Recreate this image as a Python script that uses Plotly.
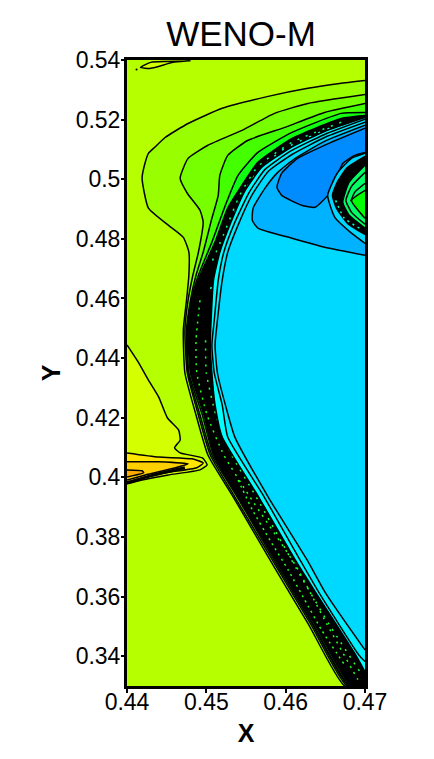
"""
WENO-M contour panel, density field near the shock. Contour outlines read off the picture.
"""
import plotly.graph_objects as go

X_TICKS = [0.44, 0.45, 0.46, 0.47]
X_LABELS = ["0.44", "0.45", "0.46", "0.47"]
Y_TICKS = [0.54, 0.52, 0.50, 0.48, 0.46, 0.44, 0.42, 0.40, 0.38, 0.36, 0.34]
Y_LABELS = ["0.54", "0.52", "0.5", "0.48", "0.46", "0.44", "0.42", "0.4", "0.38", "0.36", "0.34"]

# y levels shared by the lower part of the shock contours
lower_y = [0.4594, 0.4494, 0.4350, 0.4209, 0.4075, 0.3934, 0.3697, 0.3506, 0.3301]

c1_x = [0.47, 0.4668, 0.4628, 0.4578, 0.4520, 0.4477, 0.4448, 0.4436, 0.4427, 0.4422, 0.4419, 0.4427, 0.4452, 0.4471, 0.4478, 0.4478,
        0.4475, 0.4471, 0.4473, 0.4487, 0.4502, 0.4534, 0.4586, 0.4629, 0.4674]
c1_y = [0.5331, 0.5321, 0.5305, 0.5278, 0.5238, 0.5187, 0.5140, 0.5110, 0.5087, 0.5047, 0.5003, 0.4903, 0.4846, 0.4805, 0.4755, 0.4678] + lower_y

c2_x = [0.47, 0.4628, 0.4586, 0.4545, 0.4502, 0.4477, 0.4467, 0.4476, 0.4492, 0.4496, 0.4490, 0.4483,
        0.4477, 0.4473, 0.4476, 0.4490, 0.4505, 0.4536, 0.4589, 0.4632, 0.4677]
c2_y = [0.5284, 0.5254, 0.5221, 0.5164, 0.5114, 0.5070, 0.5003, 0.4953, 0.4896, 0.4856, 0.4755, 0.4678] + lower_y

c3_x = [0.47, 0.4649, 0.4599, 0.4552, 0.4527, 0.4517, 0.4515, 0.4507, 0.4496, 0.4487,
        0.4480, 0.4475, 0.4477, 0.4492, 0.4507, 0.4539, 0.4591, 0.4634, 0.4679]
c3_y = [0.5254, 0.5224, 0.5174, 0.5130, 0.5080, 0.5013, 0.4946, 0.4869, 0.4755, 0.4678] + lower_y

c4_x = [0.47, 0.4670, 0.4608, 0.4565, 0.4540, 0.4524, 0.4507, 0.4490,
        0.4481, 0.4476, 0.4478, 0.4495, 0.4509, 0.4540, 0.4593, 0.4635, 0.4680]
c4_y = [0.5224, 0.5221, 0.5157, 0.5090, 0.5013, 0.4913, 0.4789, 0.4678] + lower_y

band_x = [0.47, 0.4670, 0.4608, 0.4565, 0.4545, 0.4527, 0.4511, 0.4492,
          0.4482, 0.4477, 0.4480, 0.4497, 0.4510, 0.4541, 0.4594, 0.4637, 0.4682]
band_y = [0.5214, 0.5204, 0.5137, 0.5057, 0.4980, 0.4903, 0.4789, 0.4678] + lower_y

inner_k_x = [0.47, 0.4649, 0.4605, 0.4570, 0.4549, 0.4531, 0.4517, 0.4509, 0.4506, 0.4505, 0.4507, 0.4511, 0.4520, 0.4566, 0.4612, 0.4638, 0.4688, 0.47]
inner_k_y = [0.5207, 0.5160, 0.5104, 0.5040, 0.4963, 0.4856, 0.4755, 0.4661, 0.4527, 0.4444, 0.4350, 0.4243, 0.4135, 0.3934, 0.3723, 0.3613, 0.3405, 0.3348]
inner_l_x = [0.47, 0.4649, 0.4606, 0.4574, 0.4554, 0.4536, 0.4522, 0.4515, 0.4510, 0.4507, 0.4510, 0.4520, 0.4527, 0.4573, 0.4618, 0.4642, 0.4692, 0.47]
inner_l_y = [0.5201, 0.5150, 0.5094, 0.5033, 0.4956, 0.4856, 0.4755, 0.4661, 0.4527, 0.4444, 0.4350, 0.4243, 0.4135, 0.3934, 0.3723, 0.3613, 0.3405, 0.3382]
main_x = [0.47, 0.4649, 0.4608, 0.4578, 0.4558, 0.4540, 0.4527, 0.4520, 0.4514, 0.4511, 0.4514, 0.4524, 0.4536, 0.4578, 0.4627, 0.4650, 0.4697, 0.47]
main_y = [0.5191, 0.5140, 0.5083, 0.5026, 0.4949, 0.4846, 0.4755, 0.4661, 0.4527, 0.4444, 0.4350, 0.4243, 0.4135, 0.3934, 0.3723, 0.3613, 0.3432, 0.3421]

mid_x = [0.47, 0.4649, 0.4608, 0.4565, 0.4558, 0.4559, 0.4574, 0.4590, 0.4612, 0.4649, 0.47]
mid_y = [0.4745, 0.4772, 0.4802, 0.4836, 0.4862, 0.4903, 0.4970, 0.5023, 0.5070, 0.5127, 0.5181]
deep_x = [0.47, 0.4649, 0.4615, 0.4595, 0.4589, 0.4595, 0.4620, 0.4637, 0.4653, 0.4665, 0.4672, 0.4687, 0.47]
deep_y = [0.5171, 0.5114, 0.5070, 0.5020, 0.4973, 0.4946, 0.4913, 0.4906, 0.4946, 0.5013, 0.5053, 0.5080, 0.5090]

ring_x = [0.47, 0.4683, 0.4665, 0.4653, 0.4662, 0.4683, 0.47]
ring_y = [0.5087, 0.5070, 0.5020, 0.4946, 0.4872, 0.4819, 0.4785]
core_x = [0.47, 0.4678, 0.4665, 0.4659, 0.4664, 0.4678, 0.47]
core_y = [0.5077, 0.5040, 0.4990, 0.4946, 0.4903, 0.4852, 0.4815]
green_x = [0.47, 0.4680, 0.4672, 0.4680, 0.47]
green_y = [0.5047, 0.4990, 0.4923, 0.4879, 0.4836]
bright_x = [0.47, 0.4683, 0.47]
bright_y = [0.4963, 0.4929, 0.4869]
chevron1_x = [0.47, 0.4683, 0.4676, 0.4683, 0.47]
chevron1_y = [0.5023, 0.4976, 0.4929, 0.4889, 0.4849]
chevron2_x = [0.47, 0.4687, 0.4682]
chevron2_y = [0.4986, 0.4956, 0.4926]
core_speck_x = [0.4663, 0.4674, 0.4693]
core_speck_y = [0.4929, 0.4869, 0.4836]

tongue1_x = [0.44, 0.4414, 0.4427, 0.4440, 0.4451, 0.4465, 0.4467, 0.4460, 0.4467, 0.4495, 0.4501, 0.4492, 0.4452, 0.4419, 0.44]
tongue1_y = [0.4444, 0.4387, 0.4326, 0.4269, 0.4199, 0.4159, 0.4125, 0.4099, 0.4082, 0.4065, 0.4042, 0.4025, 0.4008, 0.3991, 0.3978]
tongue2_x = [0.44, 0.4440, 0.4482, 0.4496, 0.4488, 0.4448, 0.4419, 0.44]
tongue2_y = [0.4082, 0.4068, 0.4062, 0.4048, 0.4032, 0.4015, 0.3998, 0.3985]
tongue3_x = [0.44, 0.4440, 0.4477, 0.4461, 0.4423, 0.44]
tongue3_y = [0.4052, 0.4052, 0.4045, 0.4032, 0.4008, 0.3991]
tongue4_x = [0.44, 0.4419, 0.4421, 0.44]
tongue4_y = [0.4025, 0.4022, 0.4015, 0.4001]
tongue_edge_x = [0.44, 0.4430, 0.4473]
tongue_edge_y = [0.3981, 0.4005, 0.4032]

sliver_x = [0.4417, 0.4430, 0.4451, 0.4480, 0.4458, 0.4430, 0.4417]
sliver_y = [0.5375, 0.5392, 0.5395, 0.5398, 0.5392, 0.5372, 0.5375]
dot_x = [0.4412]
dot_y = [0.5368]

# dotted gaps left between the packed shock contours
speck_top_x = [0.4670, 0.4608, 0.4565, 0.4542, 0.4524, 0.4507]
speck_top_y = [0.5191, 0.5124, 0.5043, 0.4946, 0.4829, 0.4722]
speck_top2_x = [0.4655, 0.4595, 0.4558, 0.4537, 0.4520, 0.4505]
speck_top2_y = [0.5171, 0.5097, 0.5003, 0.4896, 0.4762, 0.4628]
speck_low_x = [0.4492, 0.4487, 0.4488, 0.4501, 0.4522, 0.4555, 0.4612, 0.4649, 0.4691]
speck_low_y = [0.4594, 0.4460, 0.4350, 0.4209, 0.4075, 0.3934, 0.3707, 0.3522, 0.3321]
speck_low2_x = [0.4499, 0.4500, 0.4512, 0.4532, 0.4563, 0.4618, 0.4655, 0.4696]
speck_low2_y = [0.4460, 0.4350, 0.4209, 0.4075, 0.3934, 0.3673, 0.3506, 0.3338]
speck_low3_x = [0.4540, 0.4558, 0.4580, 0.4603, 0.4624, 0.4645, 0.4674]
speck_low3_y = [0.3991, 0.3891, 0.3790, 0.3690, 0.3589, 0.3489, 0.3372]

LIME = "#b6ff00"
FONT = "Liberation Sans, Arial, sans-serif"


def region(x, y, color, width=1.5):
    return go.Scatter(x=x, y=y, mode="lines", fill="toself", fillcolor=color,
                      line=dict(color="black", width=width, shape="spline", smoothing=0.5),
                      hoverinfo="skip", showlegend=False)


def contour_line(x, y, color="black", width=1.5, dash="solid"):
    return go.Scatter(x=x, y=y, mode="lines", line=dict(color=color, width=width, dash=dash, shape="spline", smoothing=0.5),
                      hoverinfo="skip", showlegend=False)


def to_corner(x, y):
    # shock contours run out through the bottom edge, close them by the right-hand corner
    return x + [0.472, 0.472], y + [0.328, y[0]]


fig = go.Figure()
fig.add_trace(region(*to_corner(c1_x, c1_y), "#99ff00"))
fig.add_trace(region(*to_corner(c2_x, c2_y), "#77ff00"))
fig.add_trace(region(*to_corner(c3_x, c3_y), "#44ff00"))
fig.add_trace(region(*to_corner(c4_x, c4_y), "#10ff10"))
fig.add_trace(region(*to_corner(band_x, band_y), "black"))
fig.add_trace(contour_line(speck_top_x, speck_top_y, "#00ff80", 1.5, "2px,7px"))
fig.add_trace(contour_line(speck_top2_x, speck_top2_y, "#00ffd0", 1.5, "2px,8px"))
fig.add_trace(contour_line(speck_low_x, speck_low_y, "#22ff22", 1.5, "2px,5px"))
fig.add_trace(contour_line(speck_low2_x, speck_low2_y, "#22ff44", 1.5, "2px,6px"))
fig.add_trace(contour_line(speck_low3_x, speck_low3_y, "#22ff22", 1.5, "2px,4px"))
fig.add_trace(region(inner_k_x, inner_k_y, "#00ffff"))
fig.add_trace(region(inner_l_x, inner_l_y, "#00ecff"))
fig.add_trace(region(main_x, main_y, "#00d9ff"))
fig.add_trace(region(mid_x, mid_y, "#00b2ff"))
fig.add_trace(region(deep_x, deep_y, "#008cff"))
fig.add_trace(region(ring_x, ring_y, "#00d9ff"))
fig.add_trace(region(core_x, core_y, "black"))
fig.add_trace(region(green_x, green_y, "#00ff66"))
fig.add_trace(contour_line(chevron1_x, chevron1_y))
fig.add_trace(contour_line(chevron2_x, chevron2_y))
fig.add_trace(region(bright_x, bright_y, "#00ff00"))
fig.add_trace(contour_line(core_speck_x, core_speck_y, "#00ffcc", 1.5, "2px,4px"))

fig.add_trace(region(tongue1_x, tongue1_y, "#d4ff00"))
fig.add_trace(region(tongue2_x, tongue2_y, "#ffe600"))
fig.add_trace(region(tongue3_x, tongue3_y, "#ffd000"))
fig.add_trace(region(tongue4_x, tongue4_y, "#ffaa00"))
fig.add_trace(contour_line(tongue_edge_x, tongue_edge_y, width=3))
fig.add_trace(region(sliver_x, sliver_y, "#d4ff00"))
fig.add_trace(go.Scatter(x=dot_x, y=dot_y, mode="markers", marker=dict(color="black", size=2),
                         hoverinfo="skip", showlegend=False))

axis_style = dict(showgrid=False, zeroline=False, showline=True, linecolor="black", linewidth=3, mirror=True,
                  ticks="outside", tickwidth=2, tickcolor="black", tickfont=dict(family=FONT, size=23, color="black"))
fig.update_xaxes(range=[0.44, 0.47], tickvals=X_TICKS, ticktext=X_LABELS, ticklen=4, ticklabelstandoff=-11,
                 title=dict(text="<b>X</b>", font=dict(family=FONT, size=25, color="black"), standoff=11), **axis_style)
fig.update_yaxes(range=[0.33, 0.54], tickvals=Y_TICKS, ticktext=Y_LABELS, ticklen=3, ticklabelstandoff=-4,
                 title=dict(text="<b>Y</b>", font=dict(family=FONT, size=25, color="black"), standoff=8), **axis_style)
fig.update_layout(
    width=434, height=759,
    margin=dict(l=126.5, r=68.5, t=59.5, b=72.5),
    plot_bgcolor=LIME, paper_bgcolor="white",
    title=dict(text="WENO-M", font=dict(family=FONT, size=35, color="black"),
               x=241 / 434, xanchor="center", y=1 - 34 / 759, yanchor="middle"),
    showlegend=False,
)
fig.write_html("out.html", config={"displayModeBar": False}, post_script="document.body.style.margin = '0';")
